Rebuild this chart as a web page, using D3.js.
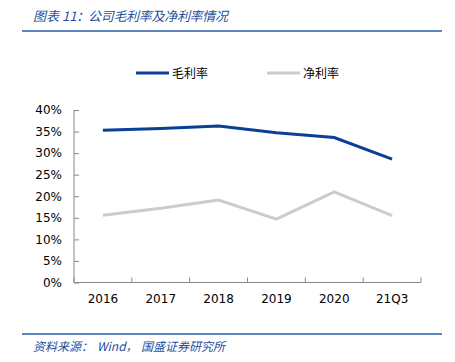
<!DOCTYPE html>
<html>
<head>
<meta charset="utf-8">
<script src="https://cdn.jsdelivr.net/npm/d3@7"></script>
<style>
  body { margin: 0; background: #fff; }
  svg { display: block; }
</style>
</head>
<body>
<svg id="chart" width="455" height="362"></svg>
<script>
var CATEGORIES = ["2016", "2017", "2018", "2019", "2020", "21Q3"];
var GROSS_MARGIN = [35.3, 35.7, 36.3, 34.7, 33.6, 28.6];
var NET_MARGIN = [15.6, 17.2, 19.1, 14.7, 21.0, 15.5];
var Y_TICKS = [0, 5, 10, 15, 20, 25, 30, 35, 40];
var SERIES_NAMES = ["毛利率", "净利率"];

var svg = d3.select("#chart");
var BLUE = "#0a3f96";
var GRAY = "#cccccc";
var TITLE_COLOR = "#1f4e9c";
var CJK = "'Noto Sans CJK SC', sans-serif";

// Header
var title = svg.append("text")
   .attr("x", 33).attr("y", 21)
   .attr("font-family", CJK).attr("font-size", "13px")
   .attr("font-style", "italic")
   .attr("fill", TITLE_COLOR);
title.append("tspan").text("图表 11\uFF1A");
title.append("tspan").attr("x", 88).attr("textLength", 140).text("公司毛利率及净利率情况");

svg.append("line")
   .attr("x1", 22).attr("x2", 442).attr("y1", 31).attr("y2", 31)
   .attr("stroke", "#2a5caa").attr("stroke-width", 1.5);

// Footer
svg.append("line")
   .attr("x1", 22).attr("x2", 442).attr("y1", 334).attr("y2", 334)
   .attr("stroke", "#2a5caa").attr("stroke-width", 1.5);

var foot = svg.append("text")
   .attr("x", 33).attr("y", 351)
   .attr("font-family", CJK).attr("font-size", "12px")
   .attr("font-style", "italic")
   .attr("fill", TITLE_COLOR);
foot.append("tspan").text("资料来源\uFF1A");
foot.append("tspan").attr("x", 97).text("Wind\uFF0C");
foot.append("tspan").attr("x", 141).text("国盛证券研究所");

// Plot
var x = d3.scaleBand().domain(CATEGORIES).range([74, 421]);
var y = d3.scaleLinear().domain([0, 40]).range([282.5, 110]);

var yAxis = svg.append("g")
   .attr("transform", "translate(74,0)")
   .call(d3.axisLeft(y).tickValues(Y_TICKS).tickSize(5).tickPadding(7)
           .tickFormat(function(d) { return d + "%"; }));
yAxis.select(".domain").attr("stroke", "#888").attr("d", "M0,110V282.5");
yAxis.selectAll(".tick line").attr("stroke", "#888").attr("x2", 5);
yAxis.selectAll("text")
   .attr("font-family", "'DejaVu Sans', sans-serif").attr("font-size", "12px")
   .attr("fill", "#000");

var xAxis = svg.append("g")
   .attr("transform", "translate(0,282.5)")
   .call(d3.axisBottom(x).tickSize(0).tickPadding(12));
xAxis.select(".domain").attr("stroke", "#888").attr("d", "M74,0H421");
xAxis.selectAll("text")
   .attr("font-family", "'DejaVu Sans', sans-serif").attr("font-size", "12px")
   .attr("fill", "#000");

// band boundary ticks
var bounds = CATEGORIES.map(function(c) { return x(c); }).concat([x.range()[1]]);
svg.append("g").selectAll("line")
   .data(bounds)
   .enter().append("line")
   .attr("x1", function(d) { return d; }).attr("x2", function(d) { return d; })
   .attr("y1", 282.5).attr("y2", 277.5)
   .attr("stroke", "#888");

var line = d3.line()
   .x(function(d, i) { return x(CATEGORIES[i]) + x.bandwidth() / 2; })
   .y(function(d) { return y(d); });

svg.append("path")
   .datum(NET_MARGIN)
   .attr("d", line)
   .attr("fill", "none").attr("stroke", GRAY).attr("stroke-width", 3);

svg.append("path")
   .datum(GROSS_MARGIN)
   .attr("d", line)
   .attr("fill", "none").attr("stroke", BLUE).attr("stroke-width", 3);

// Legend
var legend = [
  { name: SERIES_NAMES[0], color: BLUE, x: 136 },
  { name: SERIES_NAMES[1], color: GRAY, x: 267 }
];
legend.forEach(function(l) {
  svg.append("line")
     .attr("x1", l.x).attr("x2", l.x + 33).attr("y1", 73).attr("y2", 73)
     .attr("stroke", l.color).attr("stroke-width", 3);
  svg.append("text")
     .attr("x", l.x + 36).attr("y", 77.5)
     .attr("font-family", CJK).attr("font-size", "12px")
     .attr("fill", "#000")
     .text(l.name);
});
</script>
</body>
</html>
